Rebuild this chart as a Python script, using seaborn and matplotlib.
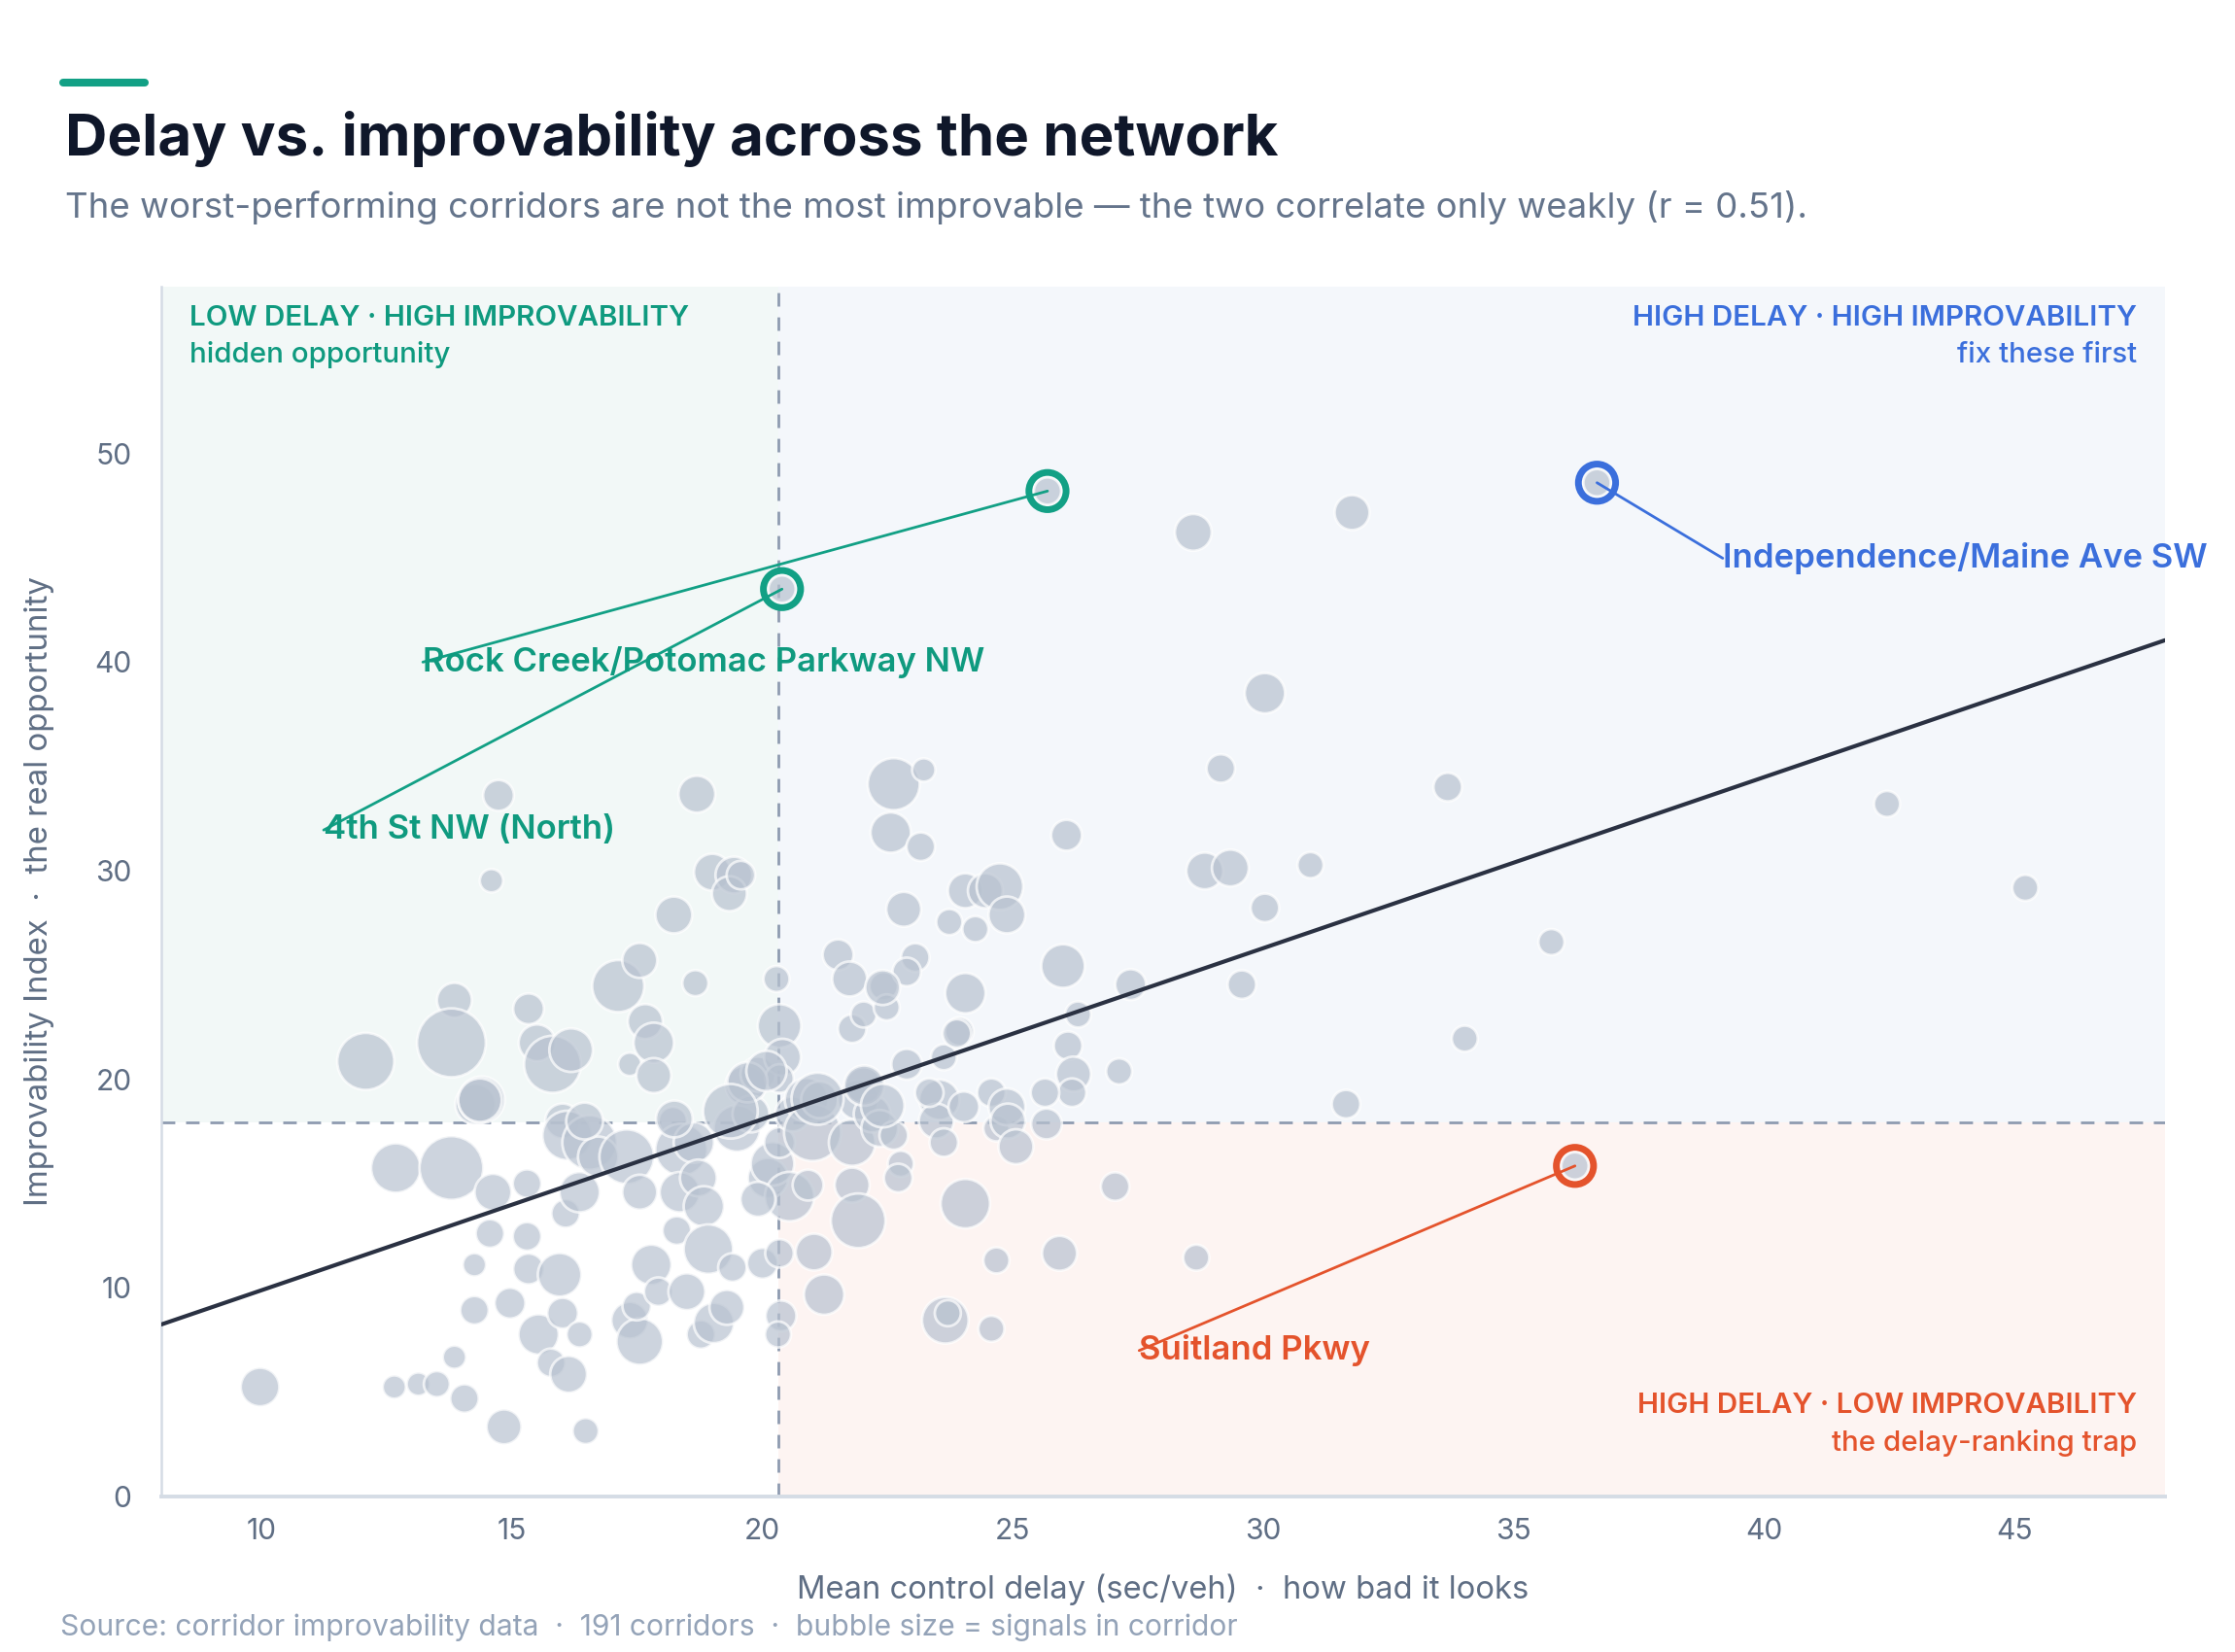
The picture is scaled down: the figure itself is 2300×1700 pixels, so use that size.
import matplotlib
matplotlib.use("Agg")
import matplotlib.pyplot as plt
from matplotlib.patches import Rectangle
from matplotlib.lines import Line2D
import seaborn as sns
import pandas as pd

# ---------------- data ----------------
delay = [
    9.97, 12.08, 12.68, 12.65, 13.13, 13.5,
    13.85, 13.79, 13.79, 13.85, 14.05, 14.25, 14.25, 14.27, 14.39,
    14.73, 14.59, 15.33, 14.62, 14.56, 14.84, 14.96, 15.30, 15.30, 15.33, 15.53, 15.78, 15.50, 15.81, 16.18,
    16.01, 16.10, 15.95, 16.01, 16.13, 16.35, 16.07, 16.35, 16.47, 16.55, 16.72,
    17.12, 17.55, 17.66, 17.35, 17.83, 17.83, 17.29, 17.55, 17.35, 17.55, 17.49, 17.78,
    18.23, 18.69, 18.66, 18.21, 18.29, 17.92, 18.38, 18.35, 18.63, 18.72, 18.83, 18.92, 18.49, 18.77,
    19.0, 19.43, 19.34, 19.57, 19.03, 19.29, 19.4, 19.49, 19.66, 19.77, 19.91, 20.0,
    20.28, 20.34, 20.40, 20.34, 20.37, 20.31, 20.34, 20.11, 20.2, 20.54, 20.34, 19.91, 20.6, 20.88, 21.0,
    21.14, 20.91, 21.03, 21.23,
    21.51, 21.74, 21.79, 22.02, 21.91, 21.79, 21.79, 21.91, 22.19, 22.02, 22.34, 22.42, 22.48,
    22.62, 22.56, 23.16, 23.22, 22.82, 23.05, 22.88, 22.88, 22.62, 22.76, 22.71,
    23.53, 23.47, 23.62, 23.33, 23.62, 24.02, 23.93, 24.05, 24.05, 23.65, 23.70,
    23.73, 24.05, 24.25, 24.45, 24.74, 24.88, 24.57, 24.67, 24.88, 24.9, 25.06, 24.67, 24.57,
    26.0, 26.07, 26.3, 26.1, 26.21, 26.18, 25.64, 25.67, 25.93,
    27.35, 27.12, 27.04, 28.66, 28.6, 31.77, 30.03, 29.15, 28.83, 29.34, 30.03, 29.57, 30.94,
    33.68, 34.02, 31.65, 35.75, 42.45, 45.21,
    19.7, 21.1, 22.03, 22.4, 19.36, 14.36, 16.45, 18.24, 22.4, 20.08, 23.88,
    25.69, 20.39, 36.66, 36.22,
]
improvability = [
    5.25, 20.86, 15.75, 5.25, 5.39, 5.39,
    23.79, 21.75, 15.75, 6.68, 4.70, 8.93, 11.11, 18.81, 19.02,
    33.61, 29.52, 23.38, 14.59, 12.61, 3.34, 9.27, 15.0, 12.47, 10.91, 7.77, 6.41, 21.75, 20.72, 21.4,
    18.0, 17.31, 10.63, 8.79, 5.86, 7.77, 13.57, 14.59, 3.14, 16.97, 16.29,
    24.47, 25.7, 22.77, 20.72, 21.75, 20.18, 16.29, 14.59, 8.45, 7.43, 9.13, 11.11,
    27.88, 33.67, 24.61, 18.0, 12.75, 9.82, 16.63, 14.59, 16.97, 15.27, 13.91, 11.86, 9.82, 7.77,
    29.93, 29.79, 28.9, 29.79, 8.32, 9.07, 10.98, 17.65, 19.7, 18.34, 20.25, 11.18,
    24.81, 22.56, 21.06, 20.04, 8.66, 7.77, 11.66, 15.27, 15.95, 14.38, 16.97, 14.25, 18.34, 19.02, 17.45,
    19.02, 14.93, 11.72, 9.68,
    25.97, 24.81, 22.43, 23.11, 19.02, 16.97, 14.93, 13.22, 18.34, 19.7, 17.65, 24.47, 23.45,
    34.15, 31.83, 31.15, 34.83, 28.15, 25.84, 25.15, 20.72, 17.31, 15.95, 15.27,
    19.02, 18.0, 16.97, 19.36, 21.06, 18.68, 22.29, 24.13, 14.04, 8.45, 8.79,
    27.54, 29.04, 27.2, 29.04, 29.24, 27.88, 19.36, 17.65, 18.68, 18.0, 16.77, 11.32, 8.04,
    25.43, 31.7, 23.11, 21.61, 20.25, 19.36, 19.36, 17.86, 11.66,
    24.54, 20.38, 14.86, 11.45, 46.22, 47.17, 38.51, 34.9, 29.99, 30.13, 28.22, 24.54, 30.27,
    34.01, 21.95, 18.81, 26.58, 33.2, 29.18,
    19.86, 19.07, 19.7, 18.74, 18.47, 19.0, 18.0, 18.1, 24.4, 20.4, 22.2,
    48.2, 43.5, 48.6, 15.85,
]
signals = [
    11, 24, 18, 4, 4, 5,
    9, 35, 30, 4, 6, 6, 4, 12, 16,
    7, 4, 7, 10, 6, 9, 7, 6, 6, 7, 12, 6, 10, 24, 14,
    9, 18, 14, 7, 10, 5, 6, 12, 5, 22, 12,
    20, 9, 9, 4, 12, 9, 22, 9, 10, 16, 6, 12,
    10, 10, 5, 6, 6, 6, 20, 12, 12, 10, 12, 18, 10, 6,
    10, 10, 9, 6, 12, 9, 6, 16, 12, 10, 9, 7,
    5, 14, 10, 6, 7, 5, 6, 12, 14, 18, 7, 9, 9, 14, 24,
    10, 7, 10, 12,
    7, 9, 6, 5, 12, 16, 9, 22, 10, 10, 10, 6, 5,
    20, 12, 6, 4, 9, 6, 6, 7, 6, 5, 6,
    12, 9, 6, 6, 5, 7, 6, 12, 18, 16, 5,
    5, 9, 5, 9, 16, 10, 6, 5, 10, 9, 9, 5, 5,
    14, 7, 5, 6, 9, 6, 6, 7, 9,
    7, 5, 6, 5, 10, 9, 12, 6, 10, 10, 6, 6, 5,
    6, 5, 6, 5, 5, 5,
    12, 20, 12, 14, 22, 14, 10, 10, 9, 12, 6,
    5.5, 5.5, 5.5, 5.5,
]

# highlighted corridors
hl_names = ["Rock Creek/Potomac Parkway NW", "4th St NW (North)",
            "Independence/Maine Ave SW", "Suitland Pkwy"]
hl_delay = [25.69, 20.39, 36.66, 36.22]
hl_improv = [48.2, 43.5, 48.6, 15.85]
hl_label_x = [13.22, 11.24, 39.17, 27.52]
hl_label_y = [40.0, 31.95, 44.98, 7.0]

# thresholds and fitted trend
delay_threshold = 20.31
improv_threshold = 17.93
fit_slope = 0.82
fit_intercept = 1.69

x_ticks = [10, 15, 20, 25, 30, 35, 40, 45]
y_ticks = [0, 10, 20, 30, 40, 50]

# ---------------- style ----------------
TEAL = "#12a085"
TEAL_TXT = "#0f9a7f"
BLUE = "#3b6fdc"
ORANGE = "#e4532c"
INK = "#0f172a"
SLATE = "#64748b"
AXIS_TXT = "#5f6e84"

sns.set_theme(style="white")
plt.rcParams["font.family"] = ["Inter", "DejaVu Sans"]

df = pd.DataFrame({"delay": delay, "improv": improvability, "signals": signals})

fig = plt.figure(figsize=(11.5, 8.5), dpi=200)
ax = fig.add_axes([0.0722, 0.0941, 0.8965, 0.7324])
xmin, xmax, ymin, ymax = 8, 48, 0, 58
ax.set_xlim(xmin, xmax)
ax.set_ylim(ymin, ymax)

# quadrant backgrounds
ax.add_patch(Rectangle((xmin, improv_threshold), delay_threshold - xmin, ymax - improv_threshold,
                       facecolor="#f2f8f7", edgecolor="none", zorder=0))
ax.add_patch(Rectangle((delay_threshold, improv_threshold), xmax - delay_threshold, ymax - improv_threshold,
                       facecolor="#f4f7fb", edgecolor="none", zorder=0))
ax.add_patch(Rectangle((delay_threshold, ymin), xmax - delay_threshold, improv_threshold - ymin,
                       facecolor="#fdf4f2", edgecolor="none", zorder=0))

# threshold lines
ax.axvline(delay_threshold, color="#8e9bb0", lw=1.0, ls=(0, (5, 4)), zorder=1)
ax.axhline(improv_threshold, color="#8e9bb0", lw=1.0, ls=(0, (5, 4)), zorder=1)

# bubbles
sns.scatterplot(data=df, x="delay", y="improv", size="signals", sizes=(56, 651),
                size_norm=(3, 35), color="#b8c2d0", alpha=0.7, edgecolor="white",
                linewidth=1.0, legend=False, ax=ax, zorder=2)

# trend line
ax.plot([xmin, xmax], [fit_intercept + fit_slope * xmin, fit_intercept + fit_slope * xmax],
        color="#2a3142", lw=1.5, zorder=3)

# highlights
hl_colors = [TEAL, TEAL, BLUE, ORANGE]
hl_text_colors = [TEAL_TXT, TEAL_TXT, BLUE, ORANGE]
for name, hx, hy, lx, ly, c, tc in zip(hl_names, hl_delay, hl_improv, hl_label_x,
                                        hl_label_y, hl_colors, hl_text_colors):
    ax.plot([hx, lx], [hy, ly], color=c, lw=1.0, zorder=4)
    ax.scatter([hx], [hy], s=190, facecolors="none", edgecolors=c, linewidths=2.5, zorder=5)
    ax.text(lx, ly, name, color=tc, fontsize=12.5, fontweight="semibold",
            ha="left", va="center", zorder=6)

# quadrant labels
QFS = 10.65
ax.text(0.0141, 0.968, "LOW DELAY · HIGH IMPROVABILITY", transform=ax.transAxes,
        color=TEAL_TXT, fontsize=QFS, fontweight="semibold", ha="left", va="baseline")
ax.text(0.0141, 0.937, "hidden opportunity", transform=ax.transAxes,
        color=TEAL_TXT, fontsize=QFS, fontweight="medium", ha="left", va="baseline")
ax.text(0.986, 0.968, "HIGH DELAY · HIGH IMPROVABILITY", transform=ax.transAxes,
        color=BLUE, fontsize=QFS, fontweight="semibold", ha="right", va="baseline")
ax.text(0.986, 0.937, "fix these first", transform=ax.transAxes,
        color=BLUE, fontsize=QFS, fontweight="medium", ha="right", va="baseline")
ax.text(0.986, 0.069, "HIGH DELAY · LOW IMPROVABILITY", transform=ax.transAxes,
        color=ORANGE, fontsize=QFS, fontweight="semibold", ha="right", va="baseline")
ax.text(0.986, 0.038, "the delay-ranking trap", transform=ax.transAxes,
        color=ORANGE, fontsize=QFS, fontweight="medium", ha="right", va="baseline")

# axes styling
ax.set_xticks(x_ticks)
ax.set_yticks(y_ticks)
ax.tick_params(axis="both", length=0, labelsize=10.8, labelcolor=AXIS_TXT)
ax.tick_params(axis="x", pad=8)
ax.tick_params(axis="y", pad=11)
for side in ["top", "right"]:
    ax.spines[side].set_visible(False)
ax.spines["left"].set_color("#d5dce5")
ax.spines["left"].set_linewidth(0.9)
ax.spines["bottom"].set_color("#d5dce5")
ax.spines["bottom"].set_linewidth(1.4)
ax.set_xlabel("")
ax.set_ylabel("")
ax.grid(False)

fig.text(0.5 * (0.0722 + 0.9687), 0.0324, "Mean control delay (sec/veh)  ·  how bad it looks",
         ha="center", va="baseline", fontsize=11.8, color=AXIS_TXT)
fig.text(0.0178, 0.4603, "Improvability Index  ·  the real opportunity", rotation=90,
         ha="center", va="center", fontsize=11.9, color=AXIS_TXT)

# header
fig.add_artist(Line2D([65 / 2300, 149 / 2300], [1 - 85 / 1700] * 2, lw=2.9, color=TEAL,
                      solid_capstyle="round", transform=fig.transFigure))
fig.text(0.0291, 0.906, "Delay vs. improvability across the network", ha="left", va="baseline",
         fontsize=21.6, fontweight="bold", color=INK)
fig.text(0.0291, 0.868,
         "The worst-performing corridors are not the most improvable \u2014 the two correlate only weakly (r = 0.51).",
         ha="left", va="baseline", fontsize=13.2, color=SLATE)
fig.text(0.027, 0.010,
         "Source: corridor improvability data  ·  191 corridors  ·  bubble size = signals in corridor",
         ha="left", va="baseline", fontsize=10.8, color="#94a3b8")

fig.savefig("out.png", dpi=200, facecolor="white")
